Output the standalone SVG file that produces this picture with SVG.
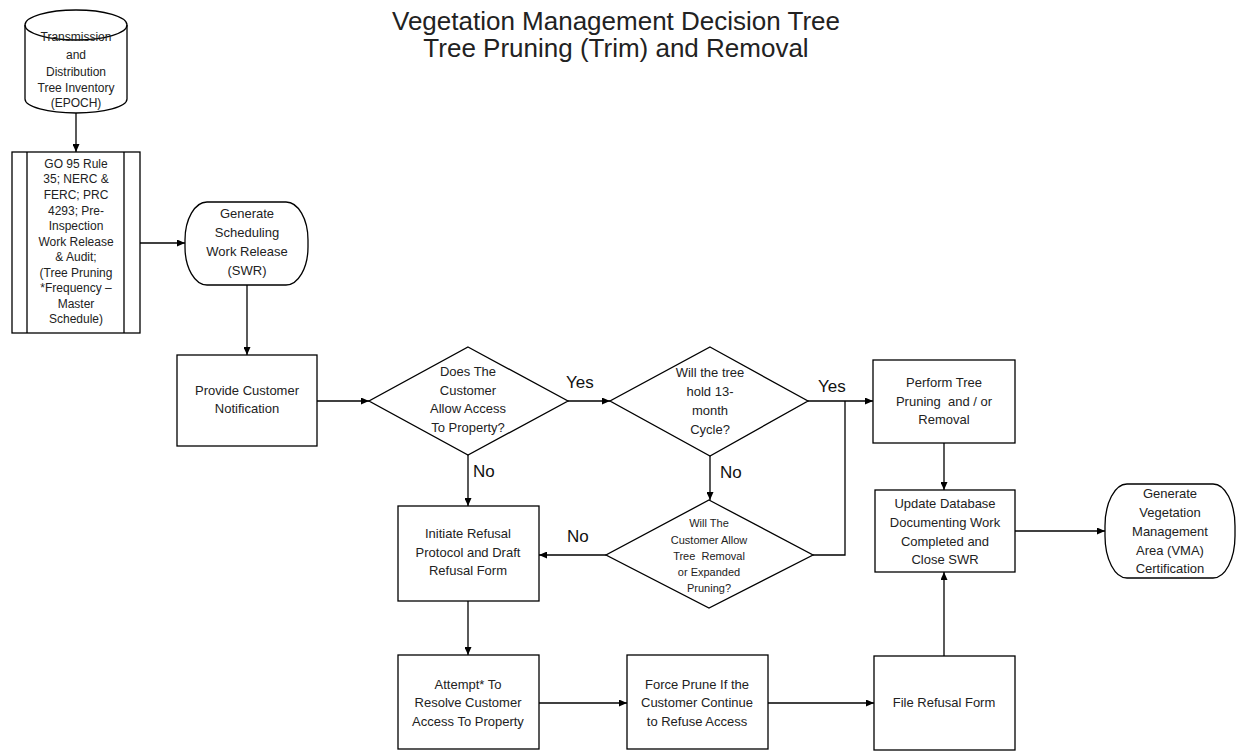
<svg xmlns="http://www.w3.org/2000/svg" width="1241" height="752" viewBox="0 0 1241 752">
<style>
.shape{fill:#fff;stroke:#000;stroke-width:1.3}
.t{font-family:"Liberation Sans",Arial,sans-serif;font-size:13px;fill:#222;text-anchor:middle}
.ts{font-family:"Liberation Sans",Arial,sans-serif;font-size:12px;fill:#222;text-anchor:middle}
.tx{font-family:"Liberation Sans",Arial,sans-serif;font-size:11px;fill:#222;text-anchor:middle}
.lbl{font-family:"Liberation Sans",Arial,sans-serif;font-size:17px;fill:#111}
.title{font-family:"Liberation Sans",Arial,sans-serif;font-size:26px;fill:#222;text-anchor:middle}
.c{fill:none;stroke:#000;stroke-width:1.3}
</style>
<defs>
<marker id="ah" markerWidth="8" markerHeight="7" refX="8" refY="3.5" orient="auto" markerUnits="userSpaceOnUse">
<path d="M0,0 L8,3.5 L0,7 z" fill="#000"/>
</marker>
</defs>
<rect width="1241" height="752" fill="#fff"/>
<g id="title">
<text class="title" x="616" y="30">Vegetation Management Decision Tree</text>
<text class="title" x="616" y="57">Tree Pruning (Trim) and Removal</text>
</g>
<g id="connectors">
<path class="c" d="M76,113 V152" marker-end="url(#ah)"/>
<path class="c" d="M140,243 H185" marker-end="url(#ah)"/>
<path class="c" d="M247,285 V355" marker-end="url(#ah)"/>
<path class="c" d="M317,401 H369" marker-end="url(#ah)"/>
<path class="c" d="M568,401 H610" marker-end="url(#ah)"/>
<path class="c" d="M468,455 V506" marker-end="url(#ah)"/>
<path class="c" d="M808,401 H873" marker-end="url(#ah)"/>
<path class="c" d="M710,456 V500" marker-end="url(#ah)"/>
<path class="c" d="M813,555 H845 V401"/>
<path class="c" d="M606,555 H539" marker-end="url(#ah)"/>
<path class="c" d="M468,601 V655" marker-end="url(#ah)"/>
<path class="c" d="M539,703 H627" marker-end="url(#ah)"/>
<path class="c" d="M768,703 H874" marker-end="url(#ah)"/>
<path class="c" d="M944,656 V572" marker-end="url(#ah)"/>
<path class="c" d="M944,443 V490" marker-end="url(#ah)"/>
<path class="c" d="M1015,531 H1105" marker-end="url(#ah)"/>
<text class="lbl" x="566" y="388">Yes</text>
<text class="lbl" x="473" y="477">No</text>
<text class="lbl" x="818" y="392">Yes</text>
<text class="lbl" x="720" y="478">No</text>
<text class="lbl" x="567" y="542">No</text>
</g>
<g id="inventory">
<path class="shape" d="M25,25 A51,15 0 0 1 127,25 V99 A51,14 0 0 1 25,99 Z"/>
<path class="c" d="M25,25 A51,15 0 0 0 127,25"/>
<text class="ts" x="76" y="41">Transmission</text>
<text class="ts" x="76" y="59">and</text>
<text class="ts" x="76" y="76">Distribution</text>
<text class="ts" x="76" y="92">Tree Inventory</text>
<text class="ts" x="76" y="107">(EPOCH)</text>
</g>
<g id="requirements">
<rect class="shape" x="12" y="152" width="128" height="181"/>
<path class="c" d="M27,152 V333 M124,152 V333"/>
<text class="ts" x="76" y="168">GO 95 Rule</text>
<text class="ts" x="76" y="183">35; NERC &amp;</text>
<text class="ts" x="76" y="199">FERC; PRC</text>
<text class="ts" x="76" y="215">4293; Pre-</text>
<text class="ts" x="76" y="230">Inspection</text>
<text class="ts" x="76" y="246">Work Release</text>
<text class="ts" x="76" y="261">&amp; Audit;</text>
<text class="ts" x="76" y="277">(Tree Pruning</text>
<text class="ts" x="76" y="292">*Frequency –</text>
<text class="ts" x="76" y="308">Master</text>
<text class="ts" x="76" y="323">Schedule)</text>
</g>
<g id="swr">
<rect class="shape" x="185" y="202" width="123" height="83" rx="22" ry="38"/>
<text class="t" x="247" y="218">Generate</text>
<text class="t" x="247" y="237">Scheduling</text>
<text class="t" x="247" y="256">Work Release</text>
<text class="t" x="247" y="275">(SWR)</text>
</g>
<g id="notify">
<rect class="shape" x="177" y="355" width="140" height="91"/>
<text class="t" x="247" y="395">Provide Customer</text>
<text class="t" x="247" y="413">Notification</text>
</g>
<g id="access">
<path class="shape" d="M468,347 L568,401 L468,455 L369,401 Z"/>
<text class="t" x="468" y="376">Does The</text>
<text class="t" x="468" y="395">Customer</text>
<text class="t" x="468" y="413">Allow Access</text>
<text class="t" x="468" y="432">To Property?</text>
</g>
<g id="hold">
<path class="shape" d="M710,347 L808,401 L710,456 L610,401 Z"/>
<text class="t" x="710" y="377">Will the tree</text>
<text class="t" x="710" y="396">hold 13-</text>
<text class="t" x="710" y="415">month</text>
<text class="t" x="710" y="434">Cycle?</text>
</g>
<g id="removal">
<path class="shape" d="M709,500 L813,555 L709,608 L606,555 Z"/>
<text class="tx" x="709" y="527">Will The</text>
<text class="tx" x="709" y="544">Customer Allow</text>
<text class="tx" x="709" y="560" xml:space="preserve">Tree  Removal</text>
<text class="tx" x="709" y="576">or Expanded</text>
<text class="tx" x="709" y="592">Pruning?</text>
</g>
<g id="perform">
<rect class="shape" x="873" y="360" width="142" height="83"/>
<text class="t" x="944" y="387">Perform Tree</text>
<text class="t" x="944" y="406" xml:space="preserve">Pruning  and / or</text>
<text class="t" x="944" y="424">Removal</text>
</g>
<g id="update">
<rect class="shape" x="875" y="490" width="140" height="82"/>
<text class="t" x="945" y="508">Update Database</text>
<text class="t" x="945" y="527">Documenting Work</text>
<text class="t" x="945" y="546">Completed and</text>
<text class="t" x="945" y="564">Close SWR</text>
</g>
<g id="vma">
<rect class="shape" x="1105" y="484" width="130" height="94" rx="22" ry="42"/>
<text class="t" x="1170" y="498">Generate</text>
<text class="t" x="1170" y="517">Vegetation</text>
<text class="t" x="1170" y="536">Management</text>
<text class="t" x="1170" y="555">Area (VMA)</text>
<text class="t" x="1170" y="573">Certification</text>
</g>
<g id="refusal">
<rect class="shape" x="398" y="506" width="141" height="95"/>
<text class="t" x="468" y="538">Initiate Refusal</text>
<text class="t" x="468" y="557">Protocol and Draft</text>
<text class="t" x="468" y="575">Refusal Form</text>
</g>
<g id="attempt">
<rect class="shape" x="398" y="655" width="141" height="94"/>
<text class="t" x="468" y="689">Attempt* To</text>
<text class="t" x="468" y="707">Resolve Customer</text>
<text class="t" x="468" y="726">Access To Property</text>
</g>
<g id="force">
<rect class="shape" x="627" y="655" width="141" height="94"/>
<text class="t" x="697" y="689">Force Prune If the</text>
<text class="t" x="697" y="707">Customer Continue</text>
<text class="t" x="697" y="726">to Refuse Access</text>
</g>
<g id="file">
<rect class="shape" x="874" y="656" width="141" height="94"/>
<text class="t" x="944" y="707">File Refusal Form</text>
</g>
</svg>
